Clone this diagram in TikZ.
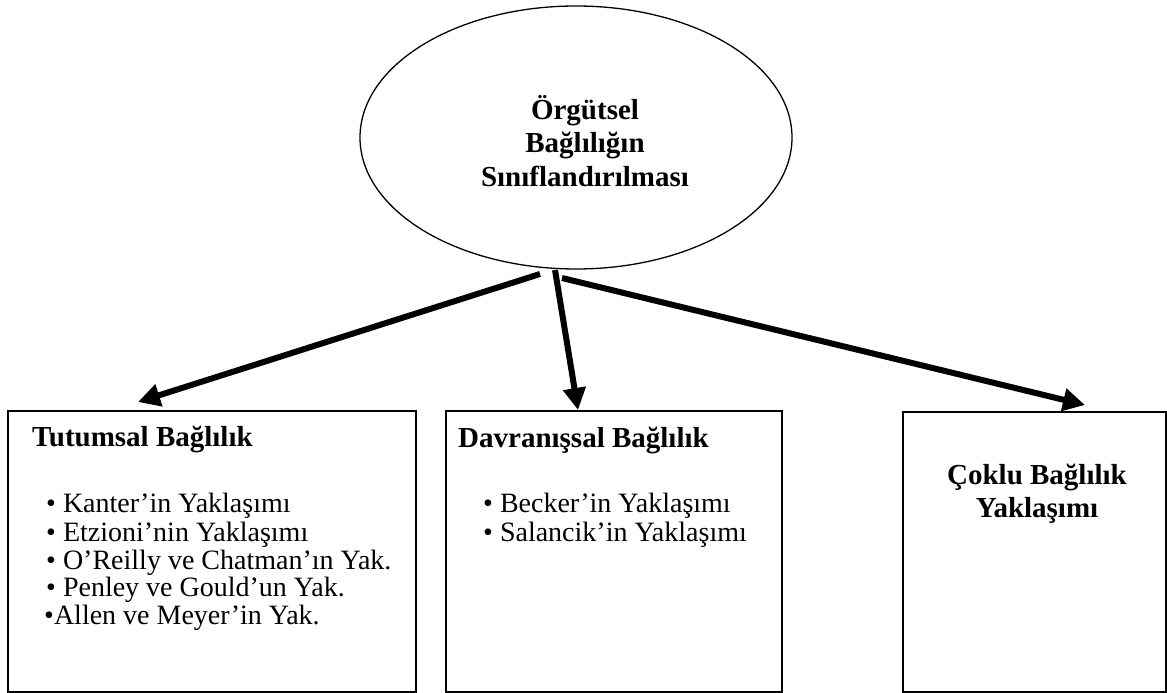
\documentclass[tikz,border=0pt]{standalone}
\usepackage{fontspec}
\setmainfont{Liberation Serif}
\usetikzlibrary{shapes.geometric,arrows.meta}
\begin{document}
\begin{tikzpicture}[x=1pt,y=1pt,
  frame/.style={draw=black,line width=1.5pt,rectangle,inner sep=0pt},
  oval/.style={draw=black,line width=1.3pt,ellipse,inner sep=0pt,minimum width=432pt,minimum height=263pt},
  head/.style={font=\fontsize{29}{33.5}\selectfont\bfseries,inner sep=0pt},
  item/.style={font=\fontsize{28}{28}\selectfont,inner sep=0pt,anchor=base west},
  arr/.style={line width=6pt,-{Triangle[length=22pt,width=22pt]}}]
\useasboundingbox (0,0) rectangle (1167,693);
% ellipse
\node[oval] (root) at (576,555.5) {};
\node[head,anchor=base] (r1) at (585,573) {Örgütsel};
\node[head,anchor=base] (r2) at (585,540) {Bağlılığın};
\node[head,anchor=base] (r3) at (585,506) {Sınıflandırılması};
% boxes
\node[frame,minimum width=408pt,minimum height=281pt] (left) at (212,141.5) {};
\node[frame,minimum width=336pt,minimum height=281pt] (mid) at (614,141.5) {};
\node[frame,minimum width=263pt,minimum height=280pt] (right) at (1034.5,141) {};
% left box text
\node[head,anchor=base west] (lt) at (32,246) {Tutumsal Bağlılık};
\node[item] (l1) at (46,180) {• Kanter’in Yaklaşımı};
\node[item] (l2) at (46,151) {• Etzioni’nin Yaklaşımı};
\node[item] (l3) at (46,123) {• O’Reilly ve Chatman’ın Yak.};
\node[item] (l4) at (46,96) {• Penley ve Gould’un Yak.};
\node[item] (l5) at (44,68) {•Allen ve Meyer’in Yak.};
% middle box text
\node[head,anchor=base west] (mt) at (458,245) {Davranışsal Bağlılık};
\node[item] (m1) at (483,180) {• Becker’in Yaklaşımı};
\node[item] (m2) at (483,151) {• Salancik’in Yaklaşımı};
% right box text
\node[head,anchor=base] (rt1) at (1037,208) {Çoklu Bağlılık};
\node[head,anchor=base] (rt2) at (1037,175) {Yaklaşımı};
% arrows
\coordinate (s1) at (540,419);
\coordinate (e1) at (138,291);
\coordinate (s2) at (555,423);
\coordinate (e2) at (578,283);
\coordinate (s3) at (562,415);
\coordinate (e3) at (1085,288);
\draw[arr] (s1) -- (e1);
\draw[arr] (s2) -- (e2);
\draw[arr] (s3) -- (e3);
\end{tikzpicture}
\end{document}
